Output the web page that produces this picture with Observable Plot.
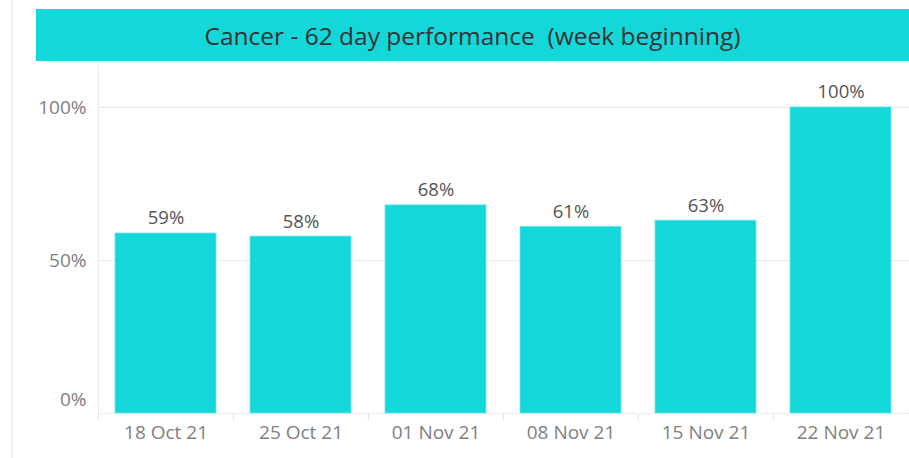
<!DOCTYPE html>
<html>
<head>
<meta charset="utf-8">
<script src="https://cdn.jsdelivr.net/npm/d3@7"></script>
<script src="https://cdn.jsdelivr.net/npm/@observablehq/plot@0.6"></script>
<style>
  html, body { margin: 0; padding: 0; background: #fff; width: 909px; height: 458px; overflow: hidden; }
  #wrap { position: relative; width: 909px; height: 458px; }
  #leftline { position: absolute; left: 11px; top: 0; width: 2px; height: 458px; background: #f0f0f0; }
  #title { position: absolute; left: 36px; top: 9px; width: 873px; height: 52px; background: #14d7da;
    display: flex; align-items: center; justify-content: center;
    font-family: "Open Sans", sans-serif; font-size: 24.5px; color: #333; white-space: pre; }
  #chart { position: absolute; left: 0; top: 61px; }
</style>
</head>
<body>
<div id="wrap">
  <div id="leftline"></div>
  <div id="title">Cancer - 62 day performance  (week beginning)</div>
  <div id="chart"></div>
</div>
<script>
const weeks = ["18 Oct 21", "25 Oct 21", "01 Nov 21", "08 Nov 21", "15 Nov 21", "22 Nov 21"];
const values = [0.588, 0.578, 0.68, 0.61, 0.63, 1.0];
const yTicks = [0, 0.5, 1];

const data = weeks.map((w, i) => ({week: w, value: values[i]}));

const W = 909, H = 397, mL = 98, mR = 0, mT = 4, mB = 45;
const step = (W - mL - mR) / weeks.length;
const pct = d3.format(".0%");
const font = "Open Sans, sans-serif";
const axisColor = "#808080";

const chart = Plot.plot({
  width: W, height: H,
  marginLeft: mL, marginRight: mR, marginTop: mT, marginBottom: mB,
  style: {fontFamily: font, fontSize: "18px", background: "transparent"},
  x: {domain: weeks, paddingInner: 0.25, paddingOuter: 0.125, label: null},
  y: {domain: [0, 1.137], label: null},
  marks: [
    Plot.gridY(yTicks.slice(1), {stroke: "#e6e6e6", strokeOpacity: 1}),
    Plot.ruleY([0], {stroke: "#dddddd", strokeDasharray: "1,1"}),
    Plot.frame({anchor: "left", stroke: "#ececec"}),
    Plot.barY(data, {x: "week", y: "value", fill: "#14d7da", stroke: "#6fe6e8", strokeWidth: 0.8}),
    Plot.text(data, {x: "week", y: "value", text: d => pct(d.value), dy: -15, fill: "#555", fontSize: 18.5}),
    Plot.axisY(yTicks.slice(1), {tickSize: 0, tickPadding: 12, tickFormat: pct, fill: axisColor, fontSize: 19, label: null}),
    Plot.axisY(yTicks.slice(0, 1), {tickSize: 0, tickPadding: 12, tickFormat: pct, fill: axisColor, fontSize: 19, dy: -14, label: null}),
    Plot.axisX({tickSize: 7, tickPadding: 0, dx: -step / 2, stroke: "#e2e2e2", text: null, label: null}),
    Plot.axisX({tickSize: 0, tickPadding: 12, fill: axisColor, fontSize: 19, label: null})
  ]
});
document.getElementById("chart").append(chart);
</script>
</body>
</html>
